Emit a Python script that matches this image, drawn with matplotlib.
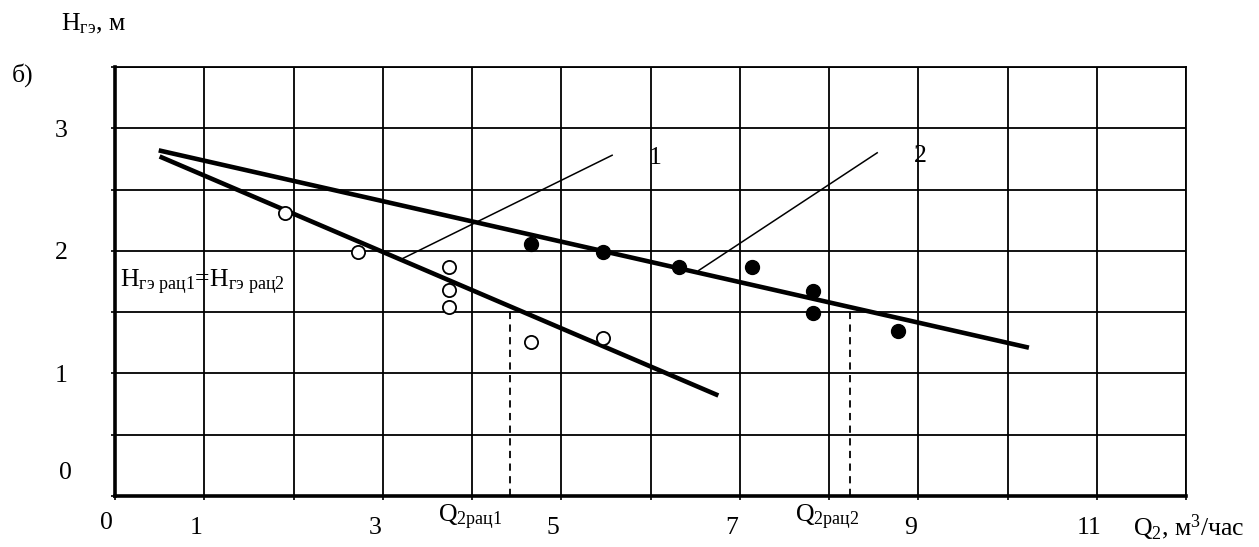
import matplotlib
matplotlib.use("Agg")
import matplotlib.pyplot as plt
import matplotlib.transforms as mtransforms
import numpy as np

plt.rcParams['font.family'] = ['Liberation Serif', 'DejaVu Serif']
plt.rcParams['mathtext.fontset'] = 'custom'
plt.rcParams['mathtext.rm'] = 'Liberation Serif'
plt.rcParams['mathtext.it'] = 'Liberation Serif'
plt.rcParams['mathtext.bf'] = 'Liberation Serif'

# ---- data ----
q_open = [1.90, 2.72, 3.74, 3.74, 3.74, 4.66, 5.47]
h_open = [2.31, 1.99, 1.87, 1.68, 1.54, 1.26, 1.29]
q_filled = [4.66, 5.47, 6.32, 7.14, 7.82, 7.82, 8.77]
h_filled = [2.06, 1.99, 1.87, 1.87, 1.67, 1.49, 1.35]

line1_q = [0.50, 6.76]
line1_h = [2.77, 0.82]
line2_q = [0.49, 10.24]
line2_h = [2.82, 1.21]

q_rat = [4.43, 8.24]
h_rat = 1.53

leader1_q = [3.23, 5.57]
leader1_h = [1.94, 2.78]
leader2_q = [6.54, 8.54]
leader2_h = [1.84, 2.80]

x_tick_values = [1, 3, 5, 7, 9, 11]
x_tick_labels = ['1', '3', '5', '7', '9', '11']
y_tick_values = [1, 2, 3]
y_tick_labels = ['1', '2', '3']

FS = 18.5
W, H = 1259, 547
fig = plt.figure(figsize=(W / 100, H / 100), dpi=100)
ax = fig.add_axes([115 / W, 1 - 496 / H, (1186 - 115) / W, (496 - 67) / H])
ax.set_xlim(0, 12)
ax.set_ylim(0, 3.5)

# grid
ax.set_xticks(np.arange(0, 13, 1), minor=True)
ax.set_yticks(np.arange(0, 3.51, 0.5), minor=True)
ax.set_xticks(x_tick_values)
ax.set_xticklabels(x_tick_labels, fontsize=FS)
ax.set_yticks(y_tick_values)
ax.set_yticklabels(y_tick_labels, fontsize=FS)
ax.grid(which='both', color='black', linewidth=1.3)
ax.set_axisbelow(True)
ax.tick_params(which='both', length=3, width=1.2, color='black')
ax.tick_params(axis='x', which='major', pad=12)
ax.tick_params(axis='y', which='major', pad=31)
for lbl in ax.get_xticklabels():
    lbl.set_transform(lbl.get_transform() + mtransforms.ScaledTranslation(-8 / 100, 0, fig.dpi_scale_trans))

for side in ['top', 'right']:
    ax.spines[side].set_linewidth(1.3)
for side in ['left', 'bottom']:
    ax.spines[side].set_linewidth(2.6)

# fit lines
ax.plot(line1_q, line1_h, color='black', linewidth=3.3, solid_capstyle='butt', zorder=3)
ax.plot(line2_q, line2_h, color='black', linewidth=3.3, solid_capstyle='butt', zorder=3)

# leader lines
ax.plot(leader1_q, leader1_h, color='black', linewidth=1.1, zorder=3)
ax.plot(leader2_q, leader2_h, color='black', linewidth=1.1, zorder=3)

# dashed verticals
for q in q_rat:
    ax.plot([q, q], [0, h_rat], color='black', linewidth=1.3, linestyle=(0, (4, 3)), zorder=3)

# points
ax.plot(q_open, h_open, linestyle='none', marker='o', markersize=9.5,
        markerfacecolor='white', markeredgecolor='black', markeredgewidth=1.3, zorder=4)
ax.plot(q_filled, h_filled, linestyle='none', marker='o', markersize=10,
        markerfacecolor='black', markeredgecolor='black', zorder=4)

# labels inside axes
ax.text(6.05, 2.76, '1', fontsize=FS, ha='center', va='center')
ax.text(9.02, 2.77, '2', fontsize=FS, ha='center', va='center')
ax.text(0.06, 1.74, r'H$_{\mathrm{гэ\ рац1}}$=H$_{\mathrm{гэ\ рац2}}$', fontsize=FS,
        ha='left', va='center', zorder=5)

# outside texts (figure pixels)
def ftext(x, y, s, **kw):
    fig.text(x / W, 1 - y / H, s, fontsize=FS, **kw)

ftext(61, 24, r'H$_{\mathrm{гэ}}$, м', ha='left', va='center')
ftext(12, 75, 'б)', ha='left', va='center')
ftext(106, 523, '0', ha='center', va='center')
ftext(65, 473, '0', ha='center', va='center')
ftext(438, 517, r'Q$_{\mathrm{2рац1}}$', ha='left', va='center')
ftext(795, 517, r'Q$_{\mathrm{2рац2}}$', ha='left', va='center')
ftext(1133, 528, r'Q$_{\mathrm{2}}$, м$^{\mathrm{3}}$/час', ha='left', va='center')

fig.savefig('out.png', dpi=100)
